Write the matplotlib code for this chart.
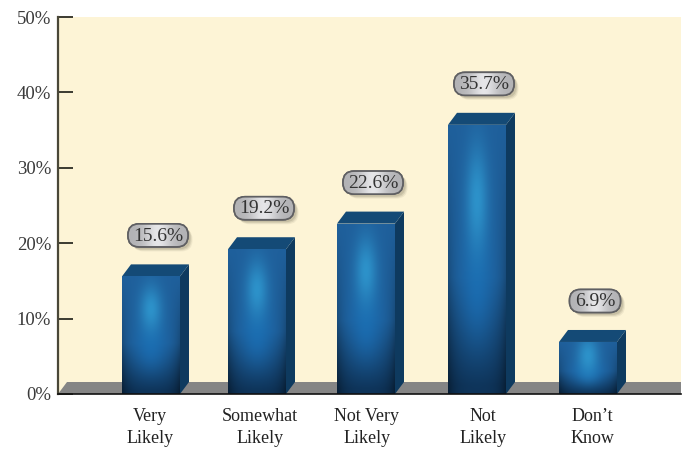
import matplotlib
matplotlib.use("Agg")
import matplotlib.pyplot as plt
from matplotlib.patches import FancyBboxPatch, Polygon
import numpy as np

plt.rcParams['font.family'] = ['Liberation Serif', 'DejaVu Serif']

categories = ["Very\nLikely", "Somewhat\nLikely", "Not Very\nLikely", "Not\nLikely", "Don\u2019t\nKnow"]
values = [15.6, 19.2, 22.6, 35.7, 6.9]
value_labels = ["15.6%", "19.2%", "22.6%", "35.7%", "6.9%"]
y_ticks = [0, 10, 20, 30, 40, 50]
y_labels = ["0%", "10%", "20%", "30%", "40%", "50%"]

# layout, x axis runs in image pixels
W, H = 686, 449
left, right, top, bottom = 58, 681, 17, 394
bar_lefts = [122, 228, 337, 448, 559]
label_x = [150, 260, 367, 483, 592]
bar_w = 58
dx = 9
per_px = 50 / (bottom - top)
dy = 12 * per_px

fig = plt.figure(figsize=(W / 100, H / 100), dpi=100, facecolor="white")
ax = fig.add_axes([left / W, 1 - bottom / H, (right - left) / W, (bottom - top) / H])
ax.set_facecolor("#fdf4d6")


def bar_gradient(height):
    # dark foot, mid blue body, soft bright spot in the upper part
    u = np.linspace(-1, 1, 80)
    v = np.linspace(1, 0, 200)
    uu, vv = np.meshgrid(u, v)
    top_c = np.array([0x1f, 0x60, 0x9c]) / 255
    low_c = np.array([0x0e, 0x33, 0x58]) / 255
    mix = np.clip((vv - 0.03) / 0.4, 0, 1)[..., None]
    img = low_c + (top_c - low_c) * mix
    edge = np.clip(1 - 0.4 * (uu ** 4) * (1 - vv), 0, 1)[..., None]
    img = img * edge
    mid = np.array([0x1a, 0x6a, 0xae]) / 255
    g2 = np.exp(-(uu / 0.55) ** 2 - ((vv - 0.42) / 0.22) ** 2)[..., None]
    img = img + (mid - img) * g2
    glow = np.array([0x2d, 0x92, 0xca]) / 255
    sy = 0.2 if height > 10 else 0.38
    g = np.exp(-(uu / 0.38) ** 2 - ((vv - 0.72) / sy) ** 2)[..., None]
    img = img + (glow - img) * g
    return img


def pill_gradient():
    u = np.linspace(-1, 1, 120)
    g = 0.7 + 0.2 * np.exp(-(u / 0.45) ** 2)
    return np.dstack([g, g, g + 0.01]).repeat(2, axis=0)


# grey floor
ax.add_patch(Polygon([(left, 0), (left + dx, dy), (right, dy), (right, 0)],
                     facecolor="#858585", edgecolor="none", zorder=1))

bars = ax.bar([x + bar_w / 2 for x in bar_lefts], values, width=bar_w,
              color="#1f5f9a", linewidth=0, zorder=3)

for rect, x, val, lab in zip(bars, bar_lefts, values, value_labels):
    r = x + bar_w
    ax.add_patch(Polygon([(r, 0), (r + dx, dy), (r + dx, val + dy), (r, val)],
                         facecolor="#0e3a5f", edgecolor="none", zorder=2))
    ax.add_patch(Polygon([(x, val), (x + dx, val + dy), (r + dx, val + dy), (r, val)],
                         facecolor="#144a76", edgecolor="none", zorder=2))
    im = ax.imshow(bar_gradient(val), extent=[x, r, 0, val], aspect="auto", zorder=4)
    im.set_clip_path(rect)

    # value pill with a drop shadow
    cx = x + bar_w / 2 + 7
    cy = val + 41 * per_px
    pw = 60 if len(lab) > 4 else 51
    ph = 23 * per_px
    for off, alpha in [(4.5, 0.10), (3.5, 0.16), (2.5, 0.2)]:
        ax.add_patch(FancyBboxPatch((cx - pw / 2 + off, cy - ph / 2 - off * per_px), pw, ph,
                                    boxstyle="round,pad=0,rounding_size=11", mutation_aspect=per_px,
                                    facecolor="#77715a", edgecolor="none", alpha=alpha, zorder=5))
    pill = FancyBboxPatch((cx - pw / 2, cy - ph / 2), pw, ph,
                          boxstyle="round,pad=0,rounding_size=11", mutation_aspect=per_px,
                          facecolor="#b5b5b8", edgecolor="#5f5f62", linewidth=1.2, zorder=7)
    ax.add_patch(pill)
    shine = ax.imshow(pill_gradient(), extent=[cx - pw / 2, cx + pw / 2, cy - ph / 2, cy + ph / 2],
                      aspect="auto", zorder=7.5)
    shine.set_clip_path(pill)
    border = FancyBboxPatch((cx - pw / 2, cy - ph / 2), pw, ph,
                            boxstyle="round,pad=0,rounding_size=11", mutation_aspect=per_px,
                            facecolor="none", edgecolor="#5f5f62", linewidth=1.2, zorder=8)
    ax.add_patch(border)
    ax.text(cx, cy - 0.1, lab, ha="center", va="center", fontsize=14, color="#333333", zorder=9)

ax.set_xlim(left, right)
ax.set_ylim(0, 50)

ax.set_yticks(y_ticks, y_labels)
ax.set_xticks(label_x, categories)
ax.tick_params(axis="y", direction="in", length=10.5, width=1.4, color="#3b3a30",
               labelsize=13.5, labelcolor="#3a3a3a", pad=5)
ax.tick_params(axis="x", length=0, labelsize=13, labelcolor="#222222", pad=10)
for lbl in ax.get_xticklabels():
    lbl.set_linespacing(1.42)
for lbl in ax.get_yticklabels():
    lbl.set_clip_on(False)

ax.spines["top"].set_visible(False)
ax.spines["right"].set_visible(False)
ax.spines["left"].set_linewidth(1.6)
ax.spines["left"].set_color("#4a4838")
ax.spines["bottom"].set_linewidth(1.2)
ax.spines["bottom"].set_color("#111111")
ax.spines["bottom"].set_zorder(6)

fig.savefig("out.png", dpi=100)
